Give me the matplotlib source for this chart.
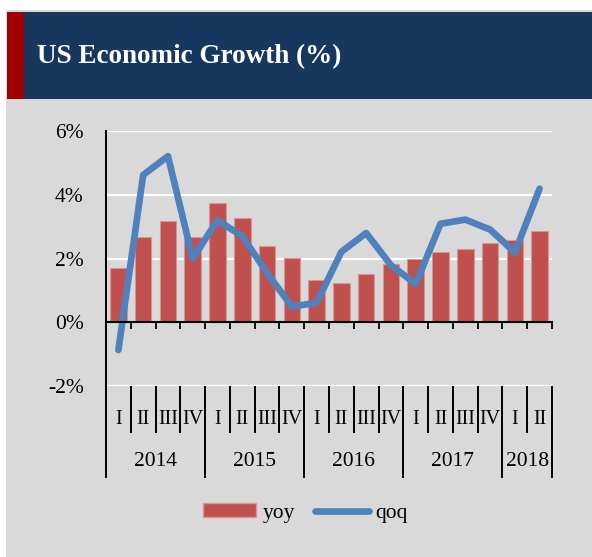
import matplotlib
matplotlib.use("Agg")
import matplotlib.pyplot as plt
from matplotlib.patches import Rectangle, Patch
from matplotlib.lines import Line2D
import matplotlib.transforms as mtransforms

years = ["2014", "2015", "2016", "2017", "2018"]
quarters = ["I", "II", "III", "IV", "I", "II", "III", "IV", "I", "II", "III", "IV",
            "I", "II", "III", "IV", "I", "II"]
yoy = [1.71, 2.66, 3.18, 2.69, 3.75, 3.28, 2.38, 2.01, 1.34, 1.22, 1.50, 1.82,
       1.98, 2.20, 2.29, 2.48, 2.57, 2.85]
qoq = [-0.87, 4.62, 5.21, 2.00, 3.20, 2.70, 1.55, 0.49, 0.61, 2.21, 2.80, 1.79,
       1.20, 3.09, 3.22, 2.91, 2.19, 4.19]
yticks = [-2, 0, 2, 4, 6]
ytick_labels = ["-2%", "0%", "2%", "4%", "6%"]

W, H = 592, 557
fig = plt.figure(figsize=(W / 100, H / 100), dpi=100)
fig.patch.set_facecolor("white")
plt.rcParams["font.family"] = ["Liberation Serif", "DejaVu Serif"]

def fx(px):
    return px / W

def fy(py):
    return 1 - py / H

# gray panel
fig.add_artist(Rectangle((fx(6), 0), 1 - fx(6), fy(10), transform=fig.transFigure,
                         facecolor="#D9D9D9", edgecolor="none", zorder=0))
# header
fig.add_artist(Rectangle((fx(24), fy(99)), 1 - fx(24), fy(12) - fy(99), transform=fig.transFigure,
                         facecolor="#17375E", edgecolor="none", zorder=1))
fig.add_artist(Rectangle((fx(7), fy(99)), fx(24) - fx(7), fy(12) - fy(99), transform=fig.transFigure,
                         facecolor="#A00000", edgecolor="none", zorder=1))
fig.text(fx(37), fy(57), "US Economic Growth (%)", color="white", fontsize=19.5,
         fontweight="bold", va="center", ha="left", zorder=2)

ax = fig.add_axes([fx(106), fy(386), fx(552) - fx(106), fy(131) - fy(386)])
ax.set_facecolor("none")
n = len(yoy)
x = list(range(n))
ax.set_xlim(-0.5, n - 0.5)
ax.set_ylim(-2, 6)

for yv in [-2, 2, 4, 6]:
    ax.axhline(yv, color="white", lw=1.6, zorder=0)

ax.bar(x, yoy, width=0.67, color="#C0504D", edgecolor="#D99594", linewidth=0.8, zorder=2,
       label="yoy")
ax.plot(x, qoq, color="#4F81BD", lw=4.8, solid_capstyle="round", solid_joinstyle="round",
        zorder=3, label="qoq")

for s in ["top", "right", "left"]:
    ax.spines[s].set_visible(False)
ax.spines["bottom"].set_position(("data", 0))
ax.spines["bottom"].set_color("black")
ax.spines["bottom"].set_linewidth(1.5)
ax.spines["bottom"].set_zorder(4)
ax.set_xticks([i - 0.5 for i in range(n + 1)])
ax.set_xticklabels([])
ax.tick_params(axis="x", direction="out", length=5, width=1.3, color="black")
ax.set_yticks(yticks)
ax.set_yticklabels(ytick_labels, fontsize=15.5)
ax.tick_params(axis="y", length=0, pad=16)

trans = mtransforms.blended_transform_factory(ax.transData, ax.transAxes)
# y axis line extended through category area
ax.add_line(Line2D([-0.5, -0.5], [1.0, -0.357], transform=trans, color="black", lw=1.4,
                   clip_on=False))
year_bounds = [3.5, 7.5, 11.5, 15.5, n - 0.5]
for i in range(1, n + 1):
    b = i - 0.5
    bottom = -0.357 if b in year_bounds else -0.18
    ax.add_line(Line2D([b, b], [-0.004, bottom], transform=trans, color="black", lw=1.4,
                       clip_on=False))
for i, q in enumerate(quarters):
    ax.text(i, -0.133, q, transform=trans, ha="center", va="center", fontsize=14.5)
starts = [-0.5, 3.5, 7.5, 11.5, 15.5]
ends = [3.5, 7.5, 11.5, 15.5, n - 0.5]
for yr, s, e in zip(years, starts, ends):
    ax.text((s + e) / 2, -0.298, yr, transform=trans, ha="center", va="center", fontsize=15.5)

handles = [Patch(facecolor="#C0504D", edgecolor="#D99594", label="yoy"),
           Line2D([0], [0], color="#4F81BD", lw=4.8, solid_capstyle="round", label="qoq")]
fig.legend(handles=handles, loc="center", bbox_to_anchor=(fx(305), fy(513)), ncol=2,
           frameon=False, fontsize=15.5, handlelength=2.5, handleheight=0.6,
           handletextpad=0.3, columnspacing=0.9)

fig.savefig("out.png", dpi=100, facecolor=fig.get_facecolor())
